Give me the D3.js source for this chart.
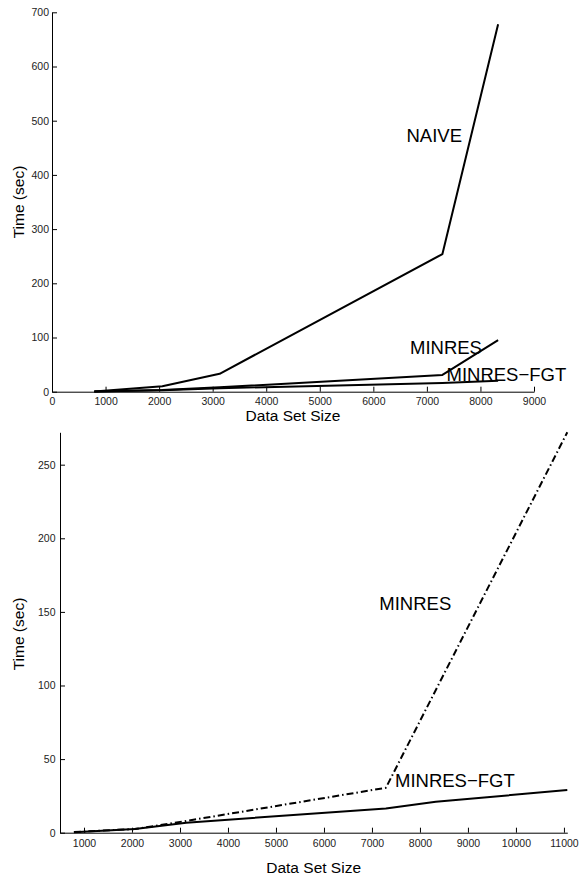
<!DOCTYPE html>
<html><head><meta charset="utf-8">
<script src="https://cdn.jsdelivr.net/npm/d3@7"></script>
<style>
body{margin:0;background:#fff;}
svg{display:block;font-family:"Liberation Sans",Arial,Helvetica,sans-serif;}
</style></head>
<body><svg id="c" width="580" height="877"></svg>
<script>
// ---- data ----
const sizesTop = [790, 2060, 3130, 7290, 8330];
const naiveTop = [0.5, 10, 33, 254, 678];
const minresTop = [0.5, 3, 8, 31, 95];
const fgtTop = [0.3, 2.5, 6.5, 16, 20];
const xTicksTop = [0,1000,2000,3000,4000,5000,6000,7000,8000,9000];
const yTicksTop = [0,100,200,300,400,500,600,700];

const sizesMinresBottom = [790, 2060, 3130, 7290, 11070];
const minresBottom = [0.5, 2.5, 8, 30.5, 272];
const sizesFgtBottom = [790, 2060, 3130, 7290, 8330, 11070];
const fgtBottom = [0.3, 2.5, 6.8, 16.5, 21, 29];
const xTicksBottom = [1000,2000,3000,4000,5000,6000,7000,8000,9000,10000,11000];
const yTicksBottom = [0,50,100,150,200,250];

const svg = d3.select("#c");

function panel(cfg){
  const g = svg.append("g");
  const x = d3.scaleLinear().domain(cfg.xDom).range([cfg.left, cfg.right]);
  const y = d3.scaleLinear().domain(cfg.yDom).range([cfg.bottom, cfg.top]);
  const xa = g.append("g").attr("transform",`translate(0,${cfg.bottom})`)
    .call(d3.axisBottom(x).tickValues(cfg.xTicks).tickSize(-5).tickSizeOuter(0).tickPadding(cfg.xPad).tickFormat(d3.format("d")));
  const ya = g.append("g").attr("transform",`translate(${cfg.left},0)`)
    .call(d3.axisLeft(y).tickValues(cfg.yTicks).tickSize(-5).tickSizeOuter(0).tickPadding(cfg.yPad).tickFormat(d3.format("d")));
  [xa,ya].forEach(a=>{
    a.selectAll("text").attr("font-size","10.5px").attr("fill","#222").style("font-family","inherit");
    a.selectAll("line,path").attr("stroke","#000").attr("stroke-width",1);
  });
  const line = d3.line().x(d=>x(d[0])).y(d=>y(d[1]));
  cfg.series.forEach(s=>{
    g.append("path").datum(s.xs.map((v,i)=>[v,s.ys[i]]))
      .attr("d",line).attr("fill","none").attr("stroke","#000")
      .attr("stroke-width",2).attr("stroke-linejoin","round")
      .attr("stroke-dasharray",s.dash||null);
  });
  cfg.labels.forEach(l=>{
    g.append("text").attr("x",l.x).attr("y",l.y).attr("font-size","18.5px").attr("fill","#000").text(l.t);
  });
  g.append("text").attr("x",(cfg.left+cfg.right)/2).attr("y",cfg.xLabelY)
    .attr("text-anchor","middle").attr("font-size","15.5px").text("Data Set Size");
  g.append("text").attr("transform",`translate(23.5,${cfg.yLabelY}) rotate(-90)`)
    .attr("text-anchor","middle").attr("font-size","15.5px").text("Time (sec)");
}

panel({
  xDom:[0,9000], yDom:[0,700], left:52, right:534, top:12.3, bottom:391.7,
  xTicks:xTicksTop, yTicks:yTicksTop, xPad:6, yPad:3,
  series:[
    {xs:sizesTop, ys:naiveTop},
    {xs:sizesTop, ys:minresTop},
    {xs:sizesTop, ys:fgtTop}
  ],
  labels:[{x:406.5,y:141.7,t:"NAIVE"},{x:410,y:354,t:"MINRES"},{x:446.5,y:380.7,t:"MINRES\u2212FGT"}],
  xLabelY:420.5, yLabelY:202
});

panel({
  xDom:[500,11070], yDom:[0,272], left:60, right:567.3, top:432.3, bottom:832.7,
  xTicks:xTicksBottom, yTicks:yTicksBottom, xPad:7, yPad:4.5,
  series:[
    {xs:sizesMinresBottom, ys:minresBottom, dash:"7,3,1.5,3"},
    {xs:sizesFgtBottom, ys:fgtBottom}
  ],
  labels:[{x:379.3,y:610,t:"MINRES"},{x:395,y:786.7,t:"MINRES\u2212FGT"}],
  xLabelY:873, yLabelY:634
});
</script></body></html>
